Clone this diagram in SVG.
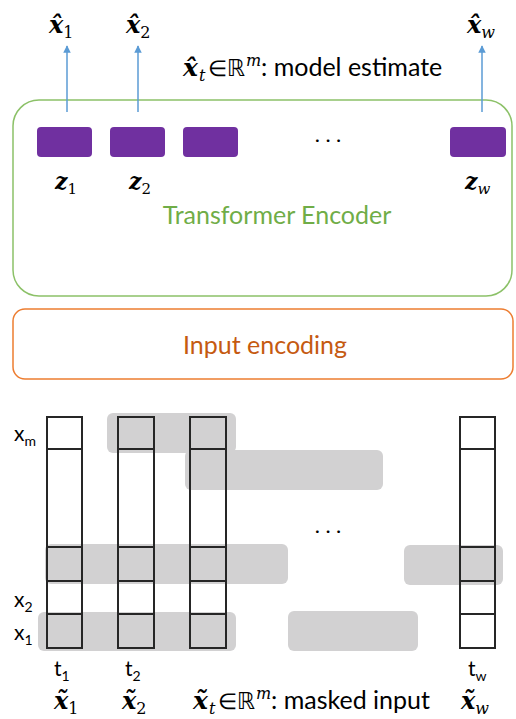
<svg xmlns="http://www.w3.org/2000/svg" width="516" height="719" viewBox="0 0 516 719">
  <style>
    .math { font-family: "DejaVu Serif", "Liberation Serif", serif; font-weight: bold; font-style: italic; fill: #000; }
    .sub { font-family: "DejaVu Serif", "Liberation Serif", serif; font-weight: normal; font-style: normal; }
    .it { font-family: "DejaVu Serif", "Liberation Serif", serif; font-weight: normal; font-style: italic; }
    .lbl { font-family: Lato, "Open Sans", "Liberation Sans", sans-serif; fill: #000; }
    .tok { fill: #7030A0; }
    .col { fill: none; stroke: #262626; stroke-width: 2; }
    .mask { fill: #D2D1D2; }
    .arrow { stroke: #5B9BD5; stroke-width: 1.5; fill: none; marker-end: url(#head); }
  </style>
  <defs>
    <marker id="head" viewBox="0 0 10 10" refX="9" refY="5" markerWidth="5" markerHeight="5" orient="auto">
      <path d="M0,0 L10,5 L0,10 z" fill="#5B9BD5"/>
    </marker>
  </defs>

  <rect width="516" height="719" fill="#fff"/>

  <!-- encoder block -->
  <g id="encoder">
    <rect x="13" y="100" width="499" height="196" rx="26" fill="none" stroke="#8CC168" stroke-width="1.5"/>
    <text x="277" y="224" text-anchor="middle" font-family="Lato, 'Open Sans', sans-serif" font-size="25" fill="#70AD47">Transformer Encoder</text>
  </g>

  <!-- latent tokens -->
  <g id="z1"><rect class="tok" x="37" y="127" width="55" height="30" rx="4"/>
    <text class="math" x="55" y="189" font-size="22">z<tspan class="sub" font-size="15" dy="5">1</tspan></text></g>
  <g id="z2"><rect class="tok" x="110" y="127" width="55" height="30" rx="4"/>
    <text class="math" x="129" y="189" font-size="22">z<tspan class="sub" font-size="15" dy="5">2</tspan></text></g>
  <g id="z3"><rect class="tok" x="183" y="127" width="55" height="30" rx="4"/></g>
  <g id="zw"><rect class="tok" x="450" y="127" width="56" height="30" rx="4"/>
    <text class="math" x="465" y="189" font-size="22">z<tspan class="it" font-size="15" dy="5">w</tspan></text></g>
  <text class="lbl" x="331" y="146" text-anchor="middle" font-size="18" letter-spacing="6">···</text>

  <!-- model estimates -->
  <g id="xhat1"><text class="math" x="49" y="33" font-size="24">x̂<tspan class="sub" font-size="16" dy="5">1</tspan></text></g>
  <g id="xhat2"><text class="math" x="126" y="33" font-size="24">x̂<tspan class="sub" font-size="16" dy="5">2</tspan></text></g>
  <g id="xhatw"><text class="math" x="467" y="33" font-size="24">x̂<tspan class="it" font-size="16" dy="5">w</tspan></text></g>
  <text y="76" font-size="24"><tspan class="math" x="183" font-size="25">x̂</tspan><tspan class="it" x="199" font-size="16" dy="5">t</tspan><tspan class="lbl" x="208" dy="-5" font-size="22">∈</tspan><tspan x="227" font-family="DejaVu Sans, sans-serif" font-size="23">ℝ</tspan><tspan class="it" x="246" font-size="16" dy="-10">m</tspan><tspan class="lbl" x="261" dy="10" font-size="25">: model estimate</tspan></text>

  <!-- connectors -->
  <g id="connectors">
    <line class="arrow" x1="67" y1="112" x2="67" y2="46"/>
    <line class="arrow" x1="138" y1="112" x2="138" y2="46"/>
    <line class="arrow" x1="482" y1="112" x2="482" y2="46"/>
  </g>

  <!-- input encoding block -->
  <g id="input-encoding">
    <rect x="13" y="309" width="500" height="70" rx="12" fill="none" stroke="#ED7D31" stroke-width="1.5"/>
    <text x="265" y="354" text-anchor="middle" font-family="Lato, 'Open Sans', sans-serif" font-size="25" fill="#C55A11">Input encoding</text>
  </g>

  <!-- masked spans -->
  <g id="masks">
    <rect class="mask" x="107" y="413" width="129" height="40" rx="6"/>
    <rect class="mask" x="185" y="450" width="198" height="40" rx="6"/>
    <rect class="mask" x="45" y="544" width="243" height="40" rx="6"/>
    <rect class="mask" x="404" y="545" width="99" height="40" rx="6"/>
    <rect class="mask" x="38" y="612" width="198" height="39" rx="6"/>
    <rect class="mask" x="288" y="611" width="130" height="40" rx="6"/>
  </g>

  <!-- input columns -->
  <g id="col1">
    <rect class="col" x="47" y="417" width="35" height="231"/>
    <path class="col" d="M47 449H82M47 547H82M47 581H82M47 614H82"/>
  </g>
  <g id="col2">
    <rect class="col" x="118" y="417" width="36" height="231"/>
    <path class="col" d="M118 449H154M118 547H154M118 581H154M118 614H154"/>
  </g>
  <g id="col3">
    <rect class="col" x="190" y="417" width="36" height="231"/>
    <path class="col" d="M190 449H226M190 547H226M190 581H226M190 614H226"/>
  </g>
  <g id="colw">
    <rect class="col" x="460" y="417" width="35" height="231"/>
    <path class="col" d="M460 449H495M460 547H495M460 581H495M460 614H495"/>
  </g>
  <text class="lbl" x="331" y="537" text-anchor="middle" font-size="18" letter-spacing="6">···</text>

  <!-- feature labels -->
  <text class="lbl" x="14" y="441" font-size="21" fill="#1F2A44">x<tspan font-size="14" dy="5">m</tspan></text>
  <text class="lbl" x="14" y="607" font-size="21" fill="#1F2A44">x<tspan font-size="14" dy="5">2</tspan></text>
  <text class="lbl" x="14" y="640" font-size="21" fill="#1F2A44">x<tspan font-size="14" dy="5">1</tspan></text>

  <!-- time labels -->
  <text class="lbl" x="54" y="676" font-size="21" fill="#1F2A44">t<tspan font-size="14" dy="5">1</tspan></text>
  <text class="lbl" x="125" y="676" font-size="21" fill="#1F2A44">t<tspan font-size="14" dy="5">2</tspan></text>
  <text class="lbl" x="468" y="676" font-size="21" fill="#1F2A44">t<tspan font-size="14" dy="5">w</tspan></text>

  <!-- masked inputs -->
  <g id="xtilde1"><text class="math" x="54" y="709" font-size="24">x̃<tspan class="sub" font-size="16" dy="5">1</tspan></text></g>
  <g id="xtilde2"><text class="math" x="122" y="709" font-size="24">x̃<tspan class="sub" font-size="16" dy="5">2</tspan></text></g>
  <g id="xtildew"><text class="math" x="461" y="709" font-size="24">x̃<tspan class="it" font-size="16" dy="5">w</tspan></text></g>
  <text y="709" font-size="24"><tspan class="math" x="193" font-size="25">x̃</tspan><tspan class="it" x="209" font-size="16" dy="5">t</tspan><tspan class="lbl" x="218" dy="-5" font-size="22">∈</tspan><tspan x="237" font-family="DejaVu Sans, sans-serif" font-size="23">ℝ</tspan><tspan class="it" x="256" font-size="16" dy="-10">m</tspan><tspan class="lbl" x="271" dy="10" font-size="25">: masked input</tspan></text>
</svg>
